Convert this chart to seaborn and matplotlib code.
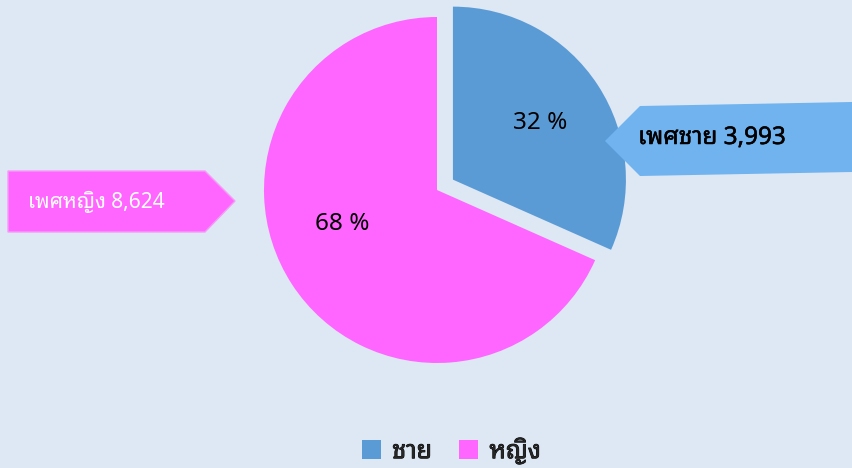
import numpy as np
import matplotlib
matplotlib.use("Agg")
import matplotlib.pyplot as plt
import matplotlib.patheffects as pe
from matplotlib.patches import Polygon
import seaborn as sns

# data
labels = ["ชาย", "หญิง"]
counts = [3993, 8624]
callout_names = ["เพศชาย", "เพศหญิง"]
colors = ["#5B9BD5", "#FF66FF"]

W, H = 852, 468
bg = "#DDE8F4"

sns.set_theme(style="white", rc={"figure.facecolor": bg, "axes.facecolor": bg})
plt.rcParams['font.family'] = ['Noto Sans Thai Looped', 'Noto Sans', 'DejaVu Sans']

fig = plt.figure(figsize=(W / 100, H / 100), dpi=100)
ax = fig.add_axes([0, 0, 1, 1])

wedges, texts, autotexts = ax.pie(
    counts,
    colors=colors,
    startangle=90,
    counterclock=False,
    explode=[19, 0],
    center=(437, H - 190),
    radius=173,
    autopct="%.0f %%",
    pctdistance=0.6,
    wedgeprops={"linewidth": 0},
    textprops={"fontsize": 17.5, "color": "black"},
    frame=True,
)
# nudge the big slice label to where the original sits
autotexts[1].set_position((342, H - 224))
ax.set_xlim(0, W)
ax.set_ylim(0, H)
ax.set_aspect("equal")
ax.axis("off")

semibold = [pe.withStroke(linewidth=0.35, foreground="black")]

# callout for men (right side)
blue_pts = [(605, 141), (640, 106), (W, 102), (W, 172), (640, 176)]
ax.add_patch(Polygon([(x, H - y) for x, y in blue_pts], closed=True,
                     facecolor="#70B3EF", edgecolor="none", zorder=3))
ax.text(638, H - 138, f"{callout_names[0]} {counts[0]:,}", fontsize=17.5,
        color="black", va="center", ha="left", zorder=4, path_effects=semibold)

# callout for women (left side)
pink_pts = [(8, 171), (205, 171), (235, 201), (205, 232), (8, 232)]
ax.add_patch(Polygon([(x, H - y) for x, y in pink_pts], closed=True,
                     facecolor=colors[1], edgecolor="#F59CF5", linewidth=1, zorder=3))
ax.text(28, H - 202, f"{callout_names[1]} {counts[1]:,}", fontsize=15,
        color="white", va="center", ha="left", zorder=4)

leg = ax.legend(wedges, labels, loc="lower center", bbox_to_anchor=(0.53, -0.04),
                ncol=2, frameon=False, handlelength=0.75, handleheight=0.75,
                handletextpad=0.45, columnspacing=1.1, prop={"size": 18})
for t in leg.get_texts():
    t.set_path_effects([pe.withStroke(linewidth=0.6, foreground="black")])

fig.savefig("out.png", dpi=100, facecolor=bg)
